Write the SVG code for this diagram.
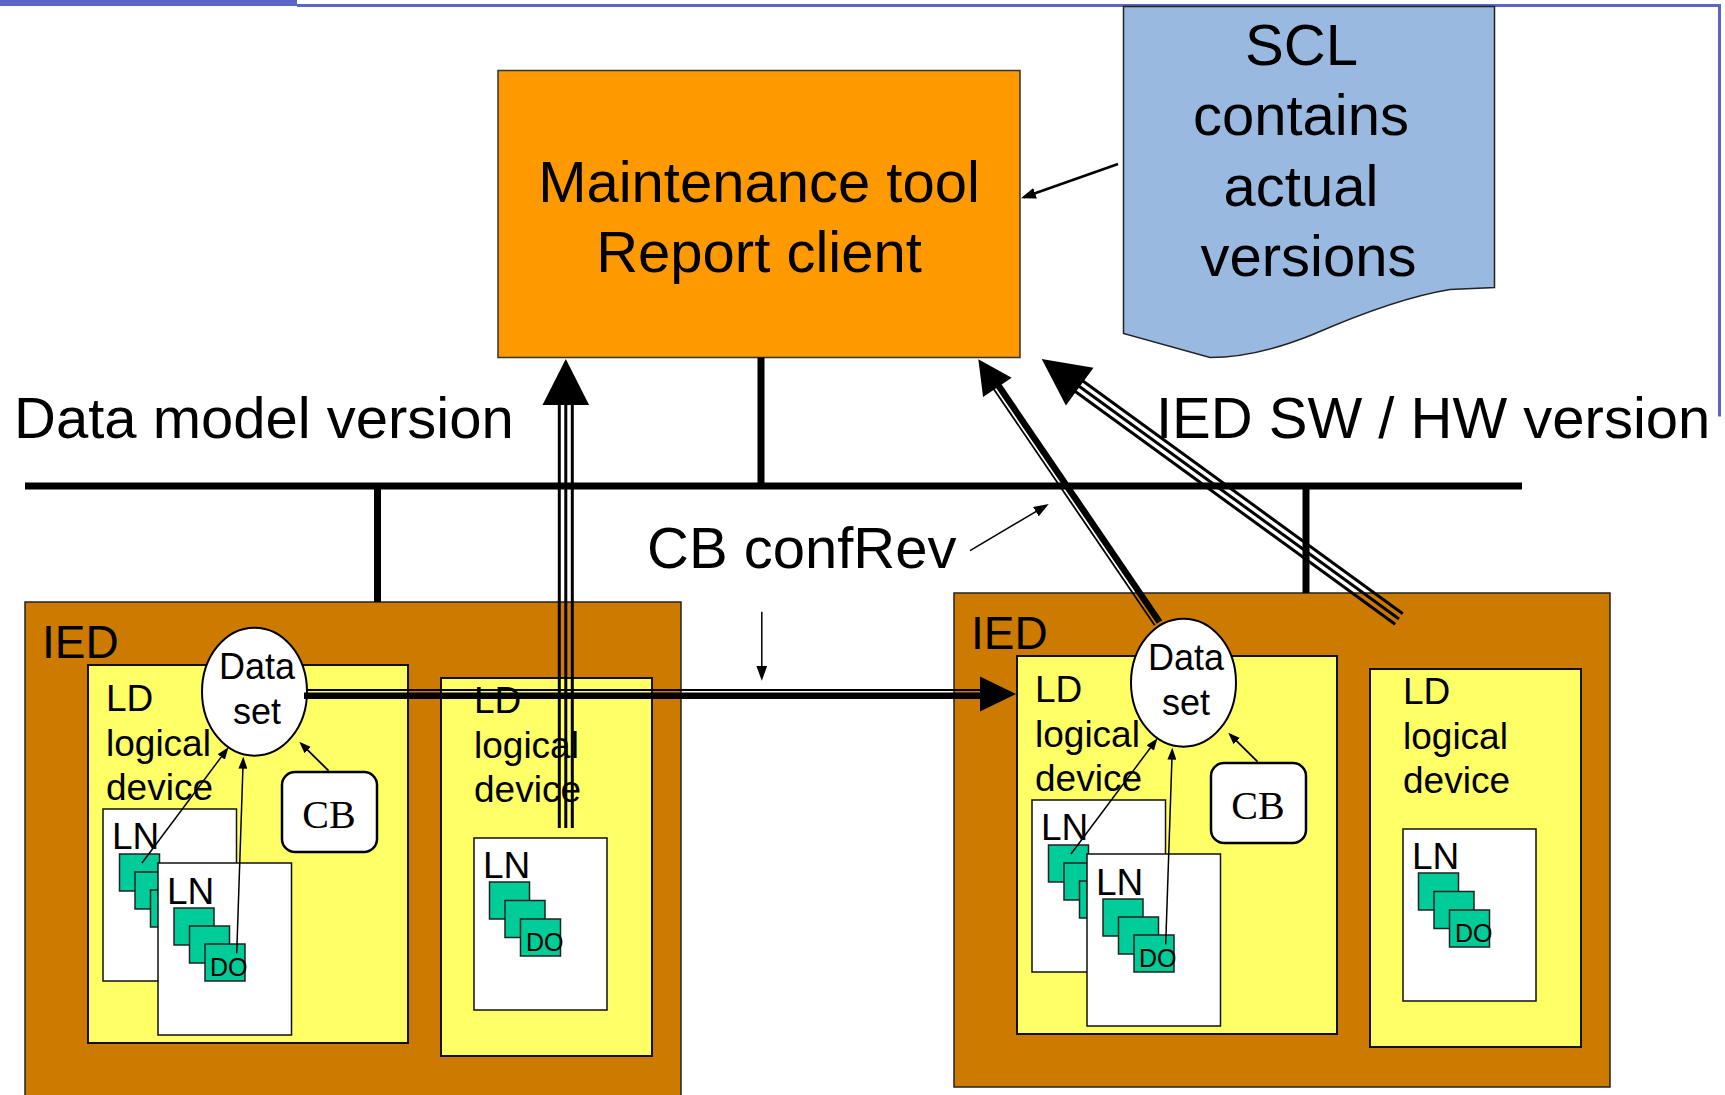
<svg xmlns="http://www.w3.org/2000/svg" width="1725" height="1095" viewBox="0 0 1725 1095">
  <style>
    .t { font-family: "Liberation Sans", Arial, Helvetica, sans-serif; fill: #000; }
    .big { font-size: 58px; }
    .iedlbl { font-size: 46px; }
    .ld { font-size: 37px; }
    .ds { font-size: 36px; text-anchor: middle; }
    .do { font-size: 25px; }
    .mid { text-anchor: middle; }
    .cb { font-family: "Liberation Serif", "Times New Roman", serif; font-size: 40px; text-anchor: middle; fill: #000; }
    .ied { fill: #CC7A00; stroke: #222; stroke-width: 1.5; }
    .ldbox { fill: #FFFF66; stroke: #111; stroke-width: 2; }
    .ln { fill: #FFFFFF; stroke: #111; stroke-width: 1.5; }
    .dosq { fill: #00CC99; stroke: #222; stroke-width: 1.5; }
    .dset { fill: #FFFFFF; stroke: #000; stroke-width: 2; }
    .cbbox { fill: #FFFFFF; stroke: #000; stroke-width: 2.5; }
    .frame { stroke: #5B67C4; fill: none; }
    .bus { stroke: #000; stroke-width: 7; fill: none; }
    .wire { stroke: #000; fill: none; }
    .head { fill: #000; stroke: none; }
  </style>
  <defs>
    <marker id="arrowS" markerUnits="userSpaceOnUse" viewBox="0 0 12 9" markerWidth="12" markerHeight="9" refX="9" refY="4.5" orient="auto">
      <path d="M0,0 L12,4.5 L0,9 z" fill="#000"/>
    </marker>
    <marker id="arrowM" markerUnits="userSpaceOnUse" viewBox="0 0 15 11" markerWidth="15" markerHeight="11" refX="12" refY="5.5" orient="auto">
      <path d="M0,0 L15,5.5 L0,11 z" fill="#000"/>
    </marker>
  </defs>

  <rect width="1725" height="1095" fill="#FFFFFF"/>

  <!-- page frame -->
  <g id="frame">
    <rect x="0" y="0" width="297" height="6" fill="#5B67C4"/>
    <line class="frame" x1="297" y1="5.5" x2="1721" y2="5.5" stroke-width="3"/>
    <line class="frame" x1="1719.5" y1="5" x2="1719.5" y2="416.5" stroke-width="3"/>
  </g>

  <!-- maintenance tool / report client -->
  <g id="maintenance-tool">
    <rect x="498" y="70.5" width="522" height="287" fill="#FF9900" stroke="#333" stroke-width="1.5"/>
    <text class="t big mid" x="759" y="201.5">Maintenance tool</text>
    <text class="t big mid" x="759" y="271.5">Report client</text>
  </g>

  <!-- SCL document -->
  <g id="scl-file">
    <path d="M1123.5,6.5 H1494.5 V287.5 L1450,289.5 C1410,296 1360,314 1314,334 C1275,350 1240,357.5 1210,357.5 L1123.5,333.5 Z" fill="#99B9E1" stroke="#222" stroke-width="1.5"/>
    <text class="t big mid" x="1301.5" y="65">SCL</text>
    <text class="t big mid" x="1301" y="134.5">contains</text>
    <text class="t big mid" x="1301" y="205.5">actual</text>
    <text class="t big mid" x="1308.5" y="276">versions</text>
  </g>

  <!-- IED (left) -->
  <g id="ied-left" transform="translate(25,602)">
    <rect class="ied" x="0" y="0" width="656" height="494"/>
    <text class="t iedlbl" x="17" y="56">IED</text>
    <g id="ied-left-ld1">
      <rect class="ldbox" x="63" y="63" width="320" height="378"/>
      <text class="t ld" x="81" y="109">LD</text>
      <text class="t ld" x="81" y="154">logical</text>
      <text class="t ld" x="81" y="198">device</text>
      <rect class="ln" x="78" y="207" width="133.5" height="172"/>
      <text class="t ld" x="87" y="247">LN</text>
      <rect class="dosq" x="94.5" y="252" width="40" height="37"/>
      <rect class="dosq" x="110" y="270" width="40" height="37"/>
      <rect class="dosq" x="125.5" y="288" width="40" height="37"/>
      <rect class="ln" x="133" y="261" width="133.5" height="172"/>
      <text class="t ld" x="142" y="302">LN</text>
      <rect class="dosq" x="149" y="306" width="40" height="37"/>
      <rect class="dosq" x="164.5" y="324" width="40" height="37"/>
      <rect class="dosq" x="180" y="342" width="40" height="37"/>
      <text class="t do" x="185" y="374">DO</text>
      <ellipse class="dset" cx="229.5" cy="89.7" rx="52.5" ry="64"/>
      <text class="t ds" x="232" y="77.3">Data</text>
      <text class="t ds" x="232" y="122.3">set</text>
      <rect class="cbbox" x="257" y="170" width="95" height="80" rx="13"/>
      <text class="cb" x="304" y="225.5">CB</text>
    </g>
    <g id="ied-left-ld2">
      <rect class="ldbox" x="416" y="76" width="211" height="378"/>
      <text class="t ld" x="449" y="111">LD</text>
      <text class="t ld" x="449" y="156">logical</text>
      <text class="t ld" x="449" y="200">device</text>
      <rect class="ln" x="449" y="236" width="133" height="172"/>
      <text class="t ld" x="458" y="276">LN</text>
      <rect class="dosq" x="464.5" y="280" width="40" height="37"/>
      <rect class="dosq" x="480" y="298.5" width="40" height="37"/>
      <rect class="dosq" x="495.5" y="317" width="40" height="37"/>
      <text class="t do" x="501" y="349">DO</text>
    </g>
  </g>

  <!-- IED (right) -->
  <g id="ied-right" transform="translate(954,593)">
    <rect class="ied" x="0" y="0" width="656" height="494"/>
    <text class="t iedlbl" x="17" y="56">IED</text>
    <g id="ied-right-ld1">
      <rect class="ldbox" x="63" y="63" width="320" height="378"/>
      <text class="t ld" x="81" y="109">LD</text>
      <text class="t ld" x="81" y="154">logical</text>
      <text class="t ld" x="81" y="198">device</text>
      <rect class="ln" x="78" y="207" width="133.5" height="172"/>
      <text class="t ld" x="87" y="247">LN</text>
      <rect class="dosq" x="94.5" y="252" width="40" height="37"/>
      <rect class="dosq" x="110" y="270" width="40" height="37"/>
      <rect class="dosq" x="125.5" y="288" width="40" height="37"/>
      <rect class="ln" x="133" y="261" width="133.5" height="172"/>
      <text class="t ld" x="142" y="302">LN</text>
      <rect class="dosq" x="149" y="306" width="40" height="37"/>
      <rect class="dosq" x="164.5" y="324" width="40" height="37"/>
      <rect class="dosq" x="180" y="342" width="40" height="37"/>
      <text class="t do" x="185" y="374">DO</text>
      <ellipse class="dset" cx="229.5" cy="89.7" rx="52.5" ry="64"/>
      <text class="t ds" x="232" y="77.3">Data</text>
      <text class="t ds" x="232" y="122.3">set</text>
      <rect class="cbbox" x="257" y="170" width="95" height="80" rx="13"/>
      <text class="cb" x="304" y="225.5">CB</text>
    </g>
    <g id="ied-right-ld2">
      <rect class="ldbox" x="416" y="76" width="211" height="378"/>
      <text class="t ld" x="449" y="111">LD</text>
      <text class="t ld" x="449" y="156">logical</text>
      <text class="t ld" x="449" y="200">device</text>
      <rect class="ln" x="449" y="236" width="133" height="172"/>
      <text class="t ld" x="458" y="276">LN</text>
      <rect class="dosq" x="464.5" y="280" width="40" height="37"/>
      <rect class="dosq" x="480" y="298.5" width="40" height="37"/>
      <rect class="dosq" x="495.5" y="317" width="40" height="37"/>
      <text class="t do" x="501" y="349">DO</text>
    </g>
  </g>

  <!-- connectors -->
  <g id="connectors">
    <!-- station bus and drops -->
    <line class="bus" x1="25" y1="486" x2="1522" y2="486"/>
    <line class="wire" x1="761" y1="357.5" x2="761" y2="486" stroke-width="7"/>
    <line class="wire" x1="377.5" y1="486" x2="377.5" y2="602" stroke-width="7"/>
    <line class="wire" x1="1306" y1="486" x2="1306" y2="593" stroke-width="7"/>

    <!-- data set report: left IED to right IED (thick/thin) -->
    <line class="wire" x1="306" y1="690" x2="981" y2="690" stroke-width="1.8"/>
    <line class="wire" x1="304" y1="695.8" x2="981" y2="695.8" stroke-width="6.5"/>
    <polygon class="head" points="980,676.5 1016,694 980,711.5"/>

    <!-- data model version: left LD up to the tool (triple line) -->
    <line class="wire" x1="559.3" y1="828" x2="559.3" y2="404" stroke-width="3"/>
    <line class="wire" x1="565.8" y1="828" x2="565.8" y2="404" stroke-width="3"/>
    <line class="wire" x1="572.3" y1="828" x2="572.3" y2="404" stroke-width="3"/>
    <polygon class="head" points="565.8,359 542.5,405 589.1,405"/>

    <!-- right data set up to the tool (thick/thin) -->
    <line class="wire" x1="1159.5" y1="622" x2="997.8" y2="384.7" stroke-width="6.5"/>
    <line class="wire" x1="1154.7" y1="625.3" x2="993" y2="388" stroke-width="1.8"/>
    <polygon class="head" points="978.3,359.3 983.1,397.1 1011.7,377.7"/>

    <!-- IED SW / HW version: right IED up to the tool (triple line) -->
    <line class="wire" x1="1399" y1="619" x2="1078.1" y2="385.5" stroke-width="3"/>
    <line class="wire" x1="1395.2" y1="624.3" x2="1074.3" y2="390.8" stroke-width="3"/>
    <line class="wire" x1="1402.8" y1="613.7" x2="1081.9" y2="380.2" stroke-width="3"/>
    <polygon class="head" points="1041.7,359 1065.9,405.6 1093.5,367.8"/>

    <!-- small pointers -->
    <path class="wire" d="M1118,164 L1023.8,197.3" stroke-width="2.5" marker-end="url(#arrowM)"/>
    <path class="wire" d="M970,550.7 L1046.2,505.5" stroke-width="1.5" marker-end="url(#arrowM)"/>
    <path class="wire" d="M761.8,611.7 L761.8,677.7" stroke-width="1.5" marker-end="url(#arrowM)"/>

    <!-- members and control block pointing at the data set -->
    <g transform="translate(25,602)">
      <path class="wire" d="M117,261 L201.7,147.7" stroke-width="1.5" marker-end="url(#arrowS)"/>
      <path class="wire" d="M211.7,351.3 L218.2,157.7" stroke-width="1.5" marker-end="url(#arrowS)"/>
      <path class="wire" d="M303.5,168.7 L276.4,141.8" stroke-width="1.8" marker-end="url(#arrowS)"/>
    </g>
    <g transform="translate(954,593)">
      <path class="wire" d="M117,261 L201.7,147.7" stroke-width="1.5" marker-end="url(#arrowS)"/>
      <path class="wire" d="M211.7,351.3 L218.2,157.7" stroke-width="1.5" marker-end="url(#arrowS)"/>
      <path class="wire" d="M303.5,168.7 L276.4,141.8" stroke-width="1.8" marker-end="url(#arrowS)"/>
    </g>
  </g>

  <!-- free labels -->
  <g id="labels">
    <text class="t big" x="14" y="438">Data model version</text>
    <text class="t big" x="1156" y="438">IED SW / HW version</text>
    <text class="t big" x="647" y="568">CB confRev</text>
  </g>
</svg>
